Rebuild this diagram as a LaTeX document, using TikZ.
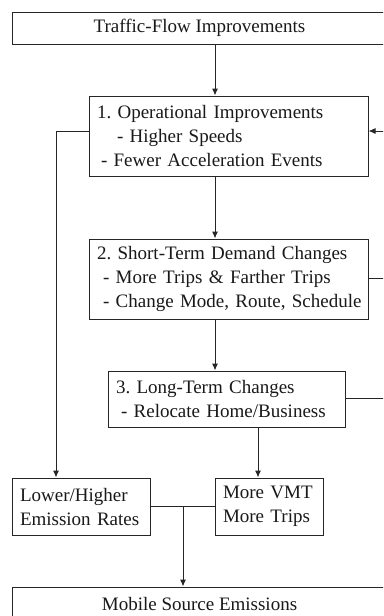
\documentclass[tikz,border=0pt]{standalone}
\usepackage{fontspec}
\setmainfont{Liberation Serif}
\usetikzlibrary{arrows.meta}
\frenchspacing
\begin{document}
\begin{tikzpicture}[x=1pt,y=-1pt,
  box/.style={draw=black!85, line width=1pt, rectangle, inner xsep=8pt, inner ysep=0pt, align=left,
    font=\fontsize{19}{24}\selectfont\frenchspacing, text=black!90},
  cbox/.style={box, align=center},
  conn/.style={draw=black!85, line width=1pt},
  arr/.style={conn, -{Latex[length=7pt,width=6pt]}}]
\useasboundingbox (0,0) rectangle (383,616);
\clip (0,0) rectangle (383,616);
\fill[white] (0,0) rectangle (383,616);
\node[cbox, minimum width=375pt, minimum height=32pt] (top) at (199.5,28) {Traffic-Flow Improvements};
\node[box, text width=263pt, minimum height=80pt] (b1) at (228.5,136)
  {\mbox{1. Operational Improvements}\\\mbox{\hspace*{20pt}- Higher Speeds}\\\mbox{\hspace*{4pt}- Fewer Acceleration Events}};
\node[box, text width=263pt, minimum height=80pt] (b2) at (228.5,279)
  {\mbox{2. Short-Term Demand Changes}\\\mbox{\hspace*{6pt}- More Trips \& Farther Trips}\\\mbox{\hspace*{6pt}- Change Mode, Route, Schedule}};
\node[box, text width=221pt, minimum height=56pt] (b3) at (226.5,399)
  {\mbox{3. Long-Term Changes}\\\mbox{\hspace*{5pt}- Relocate Home/Business}};
\node[box, text width=122pt, minimum height=57pt] (low) at (81,506.5)
  {Lower/Higher\\Emission Rates};
\node[box, text width=92pt, minimum height=57pt] (vmt) at (269,506.5)
  {More VMT\\More Trips};
\node[cbox, minimum width=375pt, minimum height=34pt] (bot) at (199.5,604) {Mobile Source Emissions};
% helper coordinates
\coordinate (xa) at (215,0);
\coordinate (xl) at (56,131);
\coordinate (xv) at (258,0);
\coordinate (xj) at (183,0);
\coordinate (r1) at (386,131);
\coordinate (r2) at (386,278);
\coordinate (r3) at (386,398);
% connectors
\draw[arr] (top.south -| xa) -- (b1.north -| xa);
\draw[arr] (b1.south -| xa) -- (b2.north -| xa);
\draw[arr] (b2.south -| xa) -- (b3.north -| xa);
\draw[arr] (b3.south -| xv) -- (vmt.north -| xv);
\draw[arr] (b1.west |- xl) -- (xl) -- (low.north -| xl);
\draw[conn] (b2.east |- r2) -- (r2);
\draw[conn] (b3.east |- r3) -- (r3) -- (r2) -- (r1);
\draw[arr] (r1) -- (b1.east |- r1);
\draw[conn] (low.east) -- (vmt.west);
\draw[arr] (low.east -| xj) -- (bot.north -| xj);
\end{tikzpicture}
\end{document}
